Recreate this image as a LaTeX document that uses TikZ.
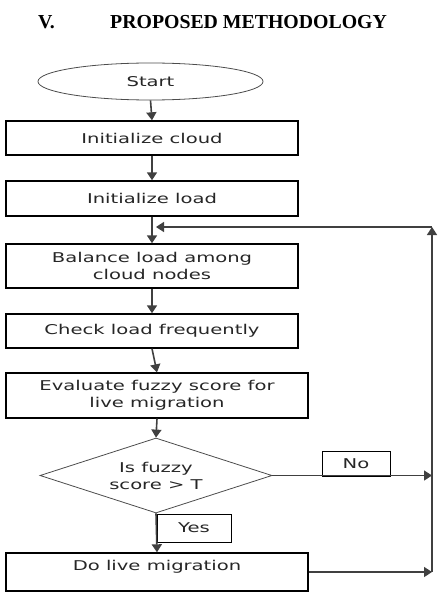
\documentclass[tikz,border=0pt]{standalone}
\usepackage{fontspec}
\newfontfamily\flowfont[FakeStretch=1.45]{DejaVu Sans}
\newfontfamily\titlefont{Liberation Serif}
\usetikzlibrary{shapes.geometric,arrows.meta}
\tikzset{
  stepbox/.style={draw=black, line width=1.4pt, minimum width=292pt, minimum height=34pt,
    inner sep=0pt, align=center, text=black!85, font=\flowfont\fontsize{13.5}{17}\selectfont},
  widebox/.style={stepbox, minimum width=302pt},
  terminal/.style={ellipse, draw=black!70, line width=0.8pt, minimum width=225pt, minimum height=37pt,
    inner sep=0pt, text=black!85, font=\flowfont\fontsize{13.5}{17}\selectfont},
  decision/.style={diamond, aspect=3.1, draw=black!70, line width=0.8pt, minimum width=232pt, minimum height=75pt,
    inner sep=0pt, align=center, text=black!85, font=\flowfont\fontsize{13.5}{17}\selectfont},
  tag/.style={draw=black, line width=1pt, inner sep=0pt, text=black!85,
    font=\flowfont\fontsize{13.5}{17}\selectfont},
  flow/.style={draw=black!75, line width=1.6pt, -{Triangle[width=10pt,length=8pt]}},
}
\begin{document}
\begin{tikzpicture}[x=1pt,y=-1pt]
\useasboundingbox (0,0) rectangle (439,607);
\node[anchor=base west, inner sep=0pt, font=\titlefont\bfseries\fontsize{19.8}{24}\selectfont] (num) at (38,29) {V.};
\node[anchor=base west, inner sep=0pt, font=\titlefont\bfseries\fontsize{19.8}{24}\selectfont] (title) at (110,29) {PROPOSED METHODOLOGY};
\node[terminal] (start) at (150.5,81.5) {Start};
\node[stepbox] (cloud) at (152,138) {Initialize cloud};
\node[stepbox, minimum height=35pt] (load) at (152,198.5) {Initialize load};
\node[stepbox, minimum height=44pt] (balance) at (152,266) {Balance load among\\cloud nodes};
\node[stepbox] (check) at (152,331) {Check load frequently};
\node[widebox, minimum height=45pt] (evaluate) at (157,395.5) {Evaluate fuzzy score for\\live migration};
\node[decision] (fuzzy) at (156,475.5) {Is fuzzy\\score > T};
\node[widebox, minimum height=38pt] (migrate) at (157,572) {Do live migration\\[-4pt]};
\node[tag, minimum width=68pt, minimum height=25pt] (no) at (356,463.5) {No};
\node[tag, minimum width=74pt, minimum height=28pt] (yes) at (194,528) {Yes};
\coordinate (fb) at (432,227);
% main flow
\draw[flow] (start.south) -- (cloud.north);
\draw[flow] (cloud.south) -- (load.north);
\draw[flow] (load.south) -- (balance.north);
\draw[flow] (balance.south) -- (check.north);
\draw[flow] (check.south) -- (evaluate.north);
\draw[flow] (evaluate.south) -- (fuzzy.north);
\draw[flow] (fuzzy.south) -- (migrate.north);
\draw[flow] (fuzzy.east) -- (fuzzy.east -| fb);
% loop back
\draw[flow] (migrate.east) -- (migrate.east -| fb);
\draw[flow] (migrate.east -| fb) -- (fb);
\draw[flow, shorten >=4pt] (fb) -- (fb -| load.south);
\end{tikzpicture}
\end{document}
